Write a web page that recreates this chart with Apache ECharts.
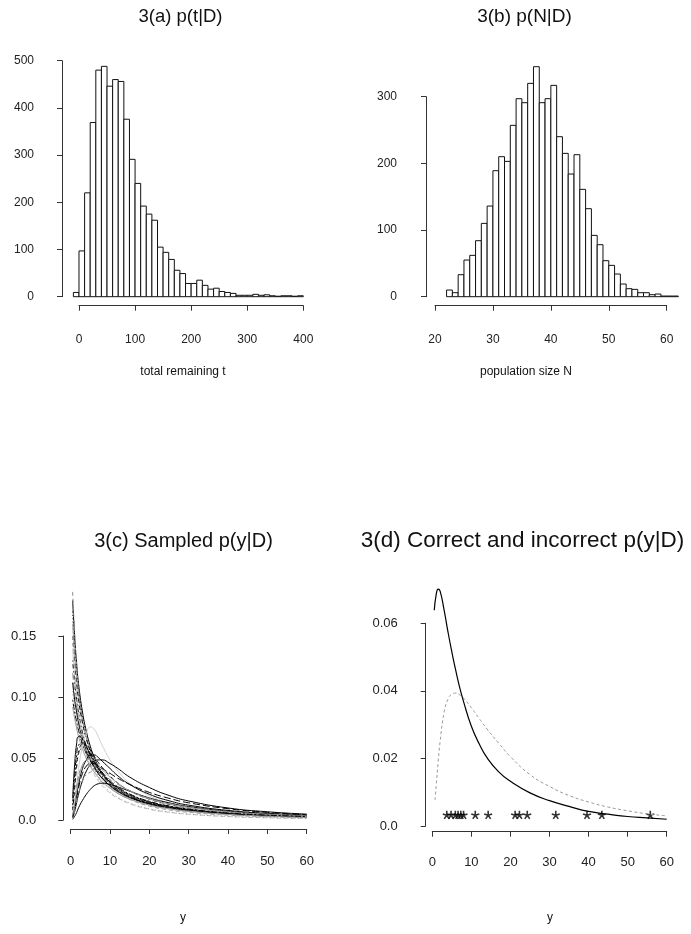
<!DOCTYPE html>
<html>
<head>
<meta charset="utf-8">
<script src="https://cdn.jsdelivr.net/npm/echarts@6/dist/echarts.min.js"></script>
<style>
  html, body { margin: 0; padding: 0; background: #fff; }
  #chart { width: 691px; height: 934px; }
</style>
</head>
<body>
<div id="chart"></div>
<script>
// ---------------- data ----------------
// 3(a) posterior samples of total remaining t: histogram, bins of width 10 from -10
const tBinStart = -10;
const tBinWidth = 10;
const tCounts = [9, 97, 220, 369, 480, 488, 446, 460, 456, 376, 291, 240, 192, 175, 162, 105, 94, 79, 56, 49,
                 28, 28, 35, 24, 16, 18, 11, 9, 7, 3, 3, 3, 5, 3, 4, 2, 1, 2, 2, 1, 2];
const tTicks = [0, 400, 100];

// 3(b) posterior samples of population size N: histogram, bins of width 1 from 22
const nBinStart = 22;
const nBinWidth = 1;
const nCounts = [10, 6, 33, 55, 62, 84, 110, 136, 189, 210, 203, 257, 297, 291, 320, 345, 291, 297, 317, 240,
                 215, 184, 213, 161, 132, 92, 78, 54, 47, 34, 19, 12, 11, 6, 6, 3, 4, 1, 1, 1];
const nTicks = [20, 60, 10];

// 3(c) sampled predictive densities p(y|D), evaluated on a common grid of y
const yGrid = [0.5, 1, 1.5, 2, 3, 4, 5, 6, 7, 8, 10, 12, 15, 20, 25, 30, 40, 50, 60];
const sampledDensities = [
  [0.179, 0.150, 0.128, 0.111, 0.088, 0.072, 0.060, 0.051, 0.044, 0.038, 0.030, 0.0245, 0.0188, 0.0130, 0.0096, 0.0074, 0.0047, 0.0032, 0.0023],
  [0.186, 0.152, 0.127, 0.108, 0.083, 0.067, 0.055, 0.046, 0.040, 0.035, 0.027, 0.022, 0.0168, 0.0114, 0.0083, 0.0063, 0.0040, 0.0027, 0.0019],
  [0.170, 0.143, 0.123, 0.107, 0.085, 0.070, 0.059, 0.050, 0.044, 0.039, 0.031, 0.0255, 0.0197, 0.0138, 0.0102, 0.0079, 0.0051, 0.0036, 0.0026],
  [0.160, 0.135, 0.117, 0.102, 0.081, 0.067, 0.057, 0.049, 0.043, 0.038, 0.030, 0.0248, 0.0192, 0.0135, 0.0100, 0.0077, 0.0050, 0.0035, 0.0026],
  [0.150, 0.128, 0.111, 0.098, 0.079, 0.066, 0.056, 0.048, 0.042, 0.037, 0.030, 0.0250, 0.0197, 0.0141, 0.0106, 0.0083, 0.0055, 0.0039, 0.0029],
  [0.140, 0.118, 0.102, 0.090, 0.072, 0.060, 0.051, 0.044, 0.038, 0.034, 0.027, 0.0222, 0.0172, 0.0120, 0.0089, 0.0068, 0.0044, 0.0031, 0.0023],
  [0.130, 0.112, 0.098, 0.087, 0.071, 0.060, 0.052, 0.045, 0.040, 0.036, 0.029, 0.0243, 0.0190, 0.0135, 0.0101, 0.0078, 0.0051, 0.0036, 0.0027],
  [0.120, 0.104, 0.092, 0.082, 0.068, 0.058, 0.050, 0.044, 0.039, 0.035, 0.029, 0.0240, 0.0190, 0.0137, 0.0104, 0.0082, 0.0055, 0.0039, 0.0030],
  [0.112, 0.098, 0.088, 0.079, 0.066, 0.056, 0.049, 0.043, 0.038, 0.034, 0.028, 0.0232, 0.0183, 0.0131, 0.0099, 0.0077, 0.0051, 0.0036, 0.0027],
  [0.105, 0.092, 0.082, 0.074, 0.062, 0.053, 0.046, 0.041, 0.036, 0.032, 0.026, 0.0218, 0.0171, 0.0122, 0.0092, 0.0071, 0.0046, 0.0032, 0.0024],
  [0.098, 0.088, 0.080, 0.073, 0.062, 0.054, 0.048, 0.043, 0.038, 0.034, 0.028, 0.0236, 0.0188, 0.0136, 0.0104, 0.0082, 0.0055, 0.0040, 0.0030],
  [0.092, 0.083, 0.075, 0.068, 0.058, 0.050, 0.044, 0.039, 0.035, 0.031, 0.026, 0.0216, 0.0171, 0.0123, 0.0093, 0.0072, 0.0047, 0.0033, 0.0025],
  [0.150, 0.122, 0.101, 0.086, 0.066, 0.053, 0.044, 0.037, 0.032, 0.028, 0.022, 0.0178, 0.0133, 0.0088, 0.0063, 0.0047, 0.0028, 0.0018, 0.0012],
  [0.165, 0.133, 0.110, 0.093, 0.071, 0.057, 0.047, 0.040, 0.034, 0.030, 0.023, 0.0185, 0.0138, 0.0091, 0.0065, 0.0048, 0.0029, 0.0019, 0.0013],
  [0.018, 0.045, 0.062, 0.068, 0.066, 0.060, 0.053, 0.047, 0.042, 0.038, 0.031, 0.026, 0.0205, 0.0147, 0.0110, 0.0086, 0.0056, 0.0040, 0.0030],
  [0.008, 0.025, 0.043, 0.054, 0.062, 0.061, 0.057, 0.052, 0.047, 0.043, 0.036, 0.030, 0.0238, 0.0170, 0.0128, 0.0099, 0.0065, 0.0046, 0.0034],
  [0.004, 0.014, 0.028, 0.042, 0.060, 0.071, 0.076, 0.074, 0.068, 0.061, 0.049, 0.040, 0.030, 0.0198, 0.0140, 0.0104, 0.0063, 0.0042, 0.0030],
  [0.003, 0.010, 0.020, 0.029, 0.042, 0.049, 0.053, 0.053, 0.051, 0.048, 0.042, 0.036, 0.029, 0.0210, 0.0157, 0.0121, 0.0078, 0.0054, 0.0040],
  [0.002, 0.007, 0.014, 0.021, 0.032, 0.040, 0.045, 0.048, 0.049, 0.049, 0.046, 0.042, 0.035, 0.0265, 0.0200, 0.0155, 0.0098, 0.0067, 0.0048],
  [0.0005, 0.003, 0.006, 0.010, 0.016, 0.021, 0.025, 0.028, 0.0295, 0.030, 0.029, 0.027, 0.0235, 0.0180, 0.0140, 0.0110, 0.0072, 0.0050, 0.0037],
  [0.004, 0.014, 0.027, 0.036, 0.044, 0.045, 0.044, 0.041, 0.038, 0.035, 0.030, 0.0255, 0.0205, 0.0150, 0.0114, 0.0089, 0.0058, 0.0041, 0.0031],
  [0.010, 0.030, 0.048, 0.056, 0.058, 0.055, 0.050, 0.045, 0.041, 0.037, 0.031, 0.026, 0.0207, 0.0149, 0.0112, 0.0087, 0.0057, 0.0040, 0.0030],
  [0.003, 0.011, 0.023, 0.033, 0.045, 0.049, 0.050, 0.048, 0.045, 0.041, 0.035, 0.030, 0.0238, 0.0172, 0.0130, 0.0101, 0.0066, 0.0047, 0.0035],
  [0.002, 0.008, 0.017, 0.026, 0.038, 0.044, 0.046, 0.046, 0.044, 0.042, 0.038, 0.034, 0.029, 0.0225, 0.0177, 0.0140, 0.0092, 0.0062, 0.0044],
  [0.002, 0.007, 0.015, 0.022, 0.032, 0.037, 0.039, 0.040, 0.039, 0.037, 0.033, 0.029, 0.0240, 0.0178, 0.0136, 0.0106, 0.0069, 0.0048, 0.0036],
  [0.012, 0.036, 0.053, 0.061, 0.063, 0.059, 0.054, 0.048, 0.043, 0.039, 0.032, 0.027, 0.0212, 0.0152, 0.0114, 0.0088, 0.0057, 0.0040, 0.0029]
];
const yTicks = [0, 60, 10];
const densityTicksC = [0, 0.15, 0.05];

// 3(d) correct and incorrect predictive densities, plus the observed y values
const correctY = [0.5, 1, 1.5, 2, 3, 4, 5, 6, 7, 8, 10, 12, 14, 17, 20, 25, 30, 35, 40, 45, 50, 55, 60];
const correctP = [0.0638, 0.0685, 0.0701, 0.0695, 0.0640, 0.0575, 0.0515, 0.0460, 0.0410, 0.0368, 0.0295, 0.0243,
                  0.0202, 0.0160, 0.0132, 0.0098, 0.0075, 0.0058, 0.0043, 0.0035, 0.0028, 0.0024, 0.0020];
const incorrectY = [0.7, 1, 1.5, 2, 3, 4, 5, 6, 7, 8, 10, 12, 14, 17, 20, 25, 30, 35, 40, 45, 50, 55, 60];
const incorrectP = [0.0077, 0.0120, 0.0190, 0.0250, 0.0335, 0.0375, 0.0390, 0.0393, 0.0388, 0.0378, 0.0350, 0.0318,
                    0.0287, 0.0245, 0.0205, 0.0152, 0.0117, 0.0090, 0.0071, 0.0056, 0.0045, 0.0036, 0.0030];
const observedY = [3.7, 4.8, 5.9, 6.6, 7.3, 8.0, 11.0, 14.3, 21.2, 22.3, 24.3, 31.6, 39.6, 43.4, 55.8];
const observedLevel = 0.0033;
const densityTicksD = [0, 0.06, 0.02];

// ---------------- drawing ----------------
const FONT = "'Liberation Sans', Arial, Helvetica, sans-serif";
const INK = '#222';

function histBins(start, width, counts) {
  return counts.map((c, i) => [start + i * width, start + (i + 1) * width, c]);
}

const grids = [], xAxes = [], yAxes = [];

// One panel = a hidden-axis plotting grid plus two separate grids that carry
// the visible axes, so each axis line spans only its first to last tick.
function addPanel(g) {
  const base = grids.length;
  grids.push({ left: g.plot[0], top: g.plot[1], width: g.plot[2], height: g.plot[3] });
  xAxes.push({ gridIndex: base, type: 'value', min: g.xr[0], max: g.xr[1], show: false });
  yAxes.push({ gridIndex: base, type: 'value', min: g.yr[0], max: g.yr[1], show: false });

  const lineStyle = { color: '#333', width: 1 };
  // x axis carrier
  grids.push({ left: g.xBox[0], width: g.xBox[1], top: g.xBox[2] - 1, height: 1 });
  xAxes.push({
    gridIndex: base + 1, type: 'value', position: 'bottom',
    min: g.xTicks[0], max: g.xTicks[1], interval: g.xTicks[2],
    axisLine: { show: true, lineStyle },
    axisTick: { show: true, length: 5, lineStyle },
    axisLabel: { show: true, margin: g.xMargin, color: INK, fontFamily: FONT, fontSize: g.fs,
                 showMinLabel: true, showMaxLabel: true, hideOverlap: false },
    splitLine: { show: false }
  });
  yAxes.push({ gridIndex: base + 1, type: 'value', min: 0, max: 1, show: false });

  // y axis carrier
  grids.push({ left: g.yBox[0], width: 1, top: g.yBox[1], height: g.yBox[2] });
  xAxes.push({ gridIndex: base + 2, type: 'value', min: 0, max: 1, show: false });
  yAxes.push({
    gridIndex: base + 2, type: 'value', position: 'left',
    min: g.yTicks[0], max: g.yTicks[1], interval: g.yTicks[2],
    axisLine: { show: true, lineStyle },
    axisTick: { show: true, length: 5, lineStyle },
    axisLabel: { show: true, margin: g.yMargin, color: INK, fontFamily: FONT, fontSize: g.fs,
                 formatter: g.yFmt, showMinLabel: true, showMaxLabel: true, hideOverlap: false },
    splitLine: { show: false }
  });
  return base;
}

const decFmt = v => (v === 0 ? '0.0' : v.toFixed(2));

const pA = addPanel({ plot: [62, 57.2, 250.5, 248.5], xr: [-30.3, 416.4], yr: [-19.07, 507.4],
  xBox: [79, 224.3, 305.7], yBox: [62, 60.7, 236], xTicks: tTicks, yTicks: [0, 500, 100],
  xMargin: 28, yMargin: 28, fs: 12 });
const pB = addPanel({ plot: [426, 57.5, 262, 248.2], xr: [18.446, 63.677], yr: [-13.5, 358.8],
  xBox: [435, 231.7, 305.7], yBox: [426, 96.7, 200], xTicks: nTicks, yTicks: [0, 300, 100],
  xMargin: 28, yMargin: 29, fs: 12 });
const pC = addPanel({ plot: [63.3, 582.8, 252.8, 246.2], xr: [-1.88, 62.4], yr: [-0.00734, 0.1934],
  xBox: [70.7, 236, 829], yBox: [63.3, 636, 184], xTicks: yTicks, yTicks: densityTicksC,
  xMargin: 26, yMargin: 27, fs: 13, yFmt: decFmt });
const pD = addPanel({ plot: [425.7, 579.9, 250.4, 251.8], xr: [-1.69, 62.4], yr: [-0.00169, 0.0728],
  xBox: [432.3, 234.4, 831.7], yBox: [425.7, 623.2, 202.8], xTicks: yTicks, yTicks: densityTicksD,
  xMargin: 24, yMargin: 28, fs: 13, yFmt: decFmt });

function histSeries(panel, bins) {
  return {
    type: 'custom', xAxisIndex: panel, yAxisIndex: panel, data: bins,
    encode: { x: [0, 1], y: 2 }, silent: true, animation: false, clip: false,
    renderItem: (params, api) => {
      const p0 = api.coord([api.value(0), 0]);
      const p1 = api.coord([api.value(1), api.value(2)]);
      return {
        type: 'rect',
        shape: { x: p0[0], y: p1[1], width: p1[0] - p0[0], height: p0[1] - p1[1] },
        style: { fill: '#fff', stroke: '#111', lineWidth: 1 }
      };
    }
  };
}

function curve(panel, xs, ps, style) {
  return {
    type: 'line', xAxisIndex: panel, yAxisIndex: panel,
    data: xs.map((x, k) => [x, ps[k]]),
    showSymbol: false, smooth: 0.5, silent: true, animation: false, clip: false,
    lineStyle: style
  };
}

// line types in the spirit of R's lty cycle
const DASH = { solid: 'solid', dashed: [4, 3], dotted: [1, 2.5], dotdash: [1, 3, 4, 3], longdash: [7, 3], twodash: [2, 2, 6, 2] };
const sampleStyles = [
  ['#000', 'solid'], ['#888', 'dashed'], ['#000', 'dotted'], ['#999', 'solid'], ['#000', 'dashed'],
  ['#c8c8c8', 'solid'], ['#000', 'dotdash'], ['#888', 'longdash'], ['#000', 'solid'], ['#999', 'dotted'],
  ['#000', 'twodash'], ['#999', 'solid'], ['#bbb', 'dashed'], ['#999', 'dotted'],
  ['#000', 'solid'], ['#000', 'dashed'], ['#cfcfcf', 'solid'], ['#000', 'solid'], ['#000', 'solid'],
  ['#000', 'solid'], ['#888', 'dashed'], ['#000', 'dotted'], ['#999', 'solid'], ['#000', 'longdash'],
  ['#888', 'dotdash'], ['#000', 'twodash']
];

const series = [
  histSeries(pA, histBins(tBinStart, tBinWidth, tCounts)),
  histSeries(pB, histBins(nBinStart, nBinWidth, nCounts))
];

sampledDensities.forEach((vals, i) => {
  const st = sampleStyles[i % sampleStyles.length];
  series.push(curve(pC, yGrid, vals, { color: st[0], width: 1, type: DASH[st[1]] }));
});

series.push(curve(pD, incorrectY, incorrectP, { color: '#9a9a9a', width: 1, type: [3, 2.5] }));
series.push(curve(pD, correctY, correctP, { color: '#000', width: 1.2, type: 'solid' }));
series.push({
  type: 'scatter', xAxisIndex: pD, yAxisIndex: pD,
  data: observedY.map(y => [y, observedLevel]),
  symbol: 'path://M0,0L0,-1M0,0L0.951,-0.309M0,0L0.588,0.809M0,0L-0.588,0.809M0,0L-0.951,-0.309',
  symbolSize: [8, 8], silent: true, animation: false,
  itemStyle: { color: '#000', borderColor: '#000', borderWidth: 1.6 }
});

function label(text, x, y, size) {
  return { type: 'text', x, y, silent: true,
           style: { text, fill: '#111', font: `${size}px ${FONT}`, align: 'center', verticalAlign: 'middle' } };
}

const chart = echarts.init(document.getElementById('chart'), null, { renderer: 'canvas', width: 691, height: 934 });
chart.setOption({
  backgroundColor: '#fff',
  animation: false,
  grid: grids,
  xAxis: xAxes,
  yAxis: yAxes,
  series,
  graphic: [
    label('3(a) p(t|D)', 180.5, 17, 18.5),
    label('3(b) p(N|D)', 524.5, 17, 19),
    label('3(c) Sampled p(y|D)', 183.5, 541, 20),
    label('3(d) Correct and incorrect p(y|D)', 522.5, 541, 22.5),
    label('total remaining t', 183, 372, 12),
    label('population size N', 526, 372, 12),
    label('y', 183, 918, 12),
    label('y', 550, 918, 12)
  ]
});
</script>
</body>
</html>
